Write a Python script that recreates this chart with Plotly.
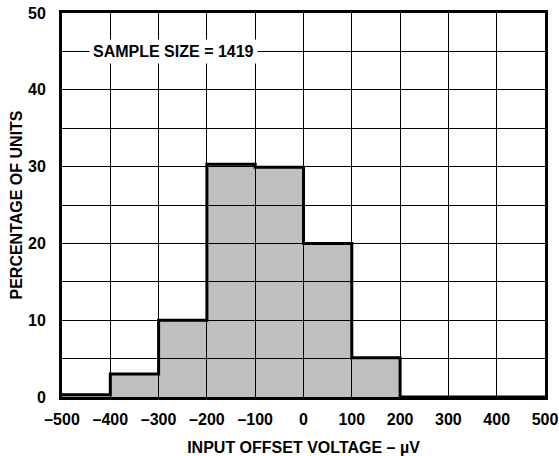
import plotly.graph_objects as go

# Data
bin_edges = [-500, -400, -300, -200, -100, 0, 100, 200, 300, 400, 500]
percent_units = [0.3, 3.0, 10.0, 30.3, 29.9, 20.0, 5.1, 0.0, 0.0, 0.0]
x_tick_values = [-500, -400, -300, -200, -100, 0, 100, 200, 300, 400, 500]
x_tick_labels = ["\u2013500", "\u2013400", "\u2013300", "\u2013200", "\u2013100",
                 "0", "100", "200", "300", "400", "500"]
y_tick_values = [0, 10, 20, 30, 40, 50]
sample_note = "SAMPLE SIZE = 1419"

bin_centers = [(a + b) / 2 for a, b in zip(bin_edges[:-1], bin_edges[1:])]
bin_widths = [b - a for a, b in zip(bin_edges[:-1], bin_edges[1:])]

FONT = "Liberation Sans, Arial, sans-serif"
FS = 16

fig = go.Figure()
fig.add_trace(go.Bar(
    x=bin_centers, y=percent_units, width=bin_widths,
    marker=dict(color="rgba(0,0,0,0.25)", line=dict(width=0)),
    showlegend=False, hoverinfo="skip",
))
fig.add_trace(go.Scatter(
    x=bin_edges, y=percent_units + [percent_units[-1]],
    mode="lines", line=dict(color="black", width=3, shape="hv"),
    showlegend=False, hoverinfo="skip", cliponaxis=False,
))

fig.add_annotation(
    x=-270, y=45, text="<b>" + sample_note + "</b>", showarrow=False,
    font=dict(family=FONT, size=FS, color="black"),
    bgcolor="white", borderpad=3,
)

fig.update_layout(
    width=559, height=456,
    margin=dict(l=62, r=14, t=13, b=59),
    paper_bgcolor="white", plot_bgcolor="white",
    bargap=0,
    font=dict(family=FONT, size=FS, color="black"),
)
fig.update_xaxes(
    range=[-500, 500], tickmode="array", tickvals=x_tick_values, ticktext=x_tick_labels,
    showgrid=True, gridcolor="black", gridwidth=1.2,
    showline=True, linecolor="black", linewidth=3, mirror=True,
    ticks="", ticklabelstandoff=6, zeroline=False,
    tickfont=dict(family=FONT, size=FS, color="black", weight="bold"),
    title=dict(text="<b>INPUT OFFSET VOLTAGE \u2013 \u00b5V</b>", standoff=17,
               font=dict(family=FONT, size=FS, color="black")),
    automargin=False,
)
fig.update_yaxes(
    range=[0, 50], tickmode="array", tickvals=y_tick_values,
    showgrid=True, gridcolor="black", gridwidth=1.2,
    minor=dict(dtick=5, showgrid=True, gridcolor="black", gridwidth=1.2, ticks=""),
    showline=True, linecolor="black", linewidth=3, mirror=True,
    ticks="", ticklabelstandoff=10, zeroline=False,
    tickfont=dict(family=FONT, size=FS, color="black", weight="bold"),
    title=dict(text="<b>PERCENTAGE OF UNITS</b>", standoff=2,
               font=dict(family=FONT, size=FS, color="black")),
    automargin=False,
)

fig.write_html("out.html", config={"displayModeBar": False},
               post_script="document.body.style.margin='0';")
